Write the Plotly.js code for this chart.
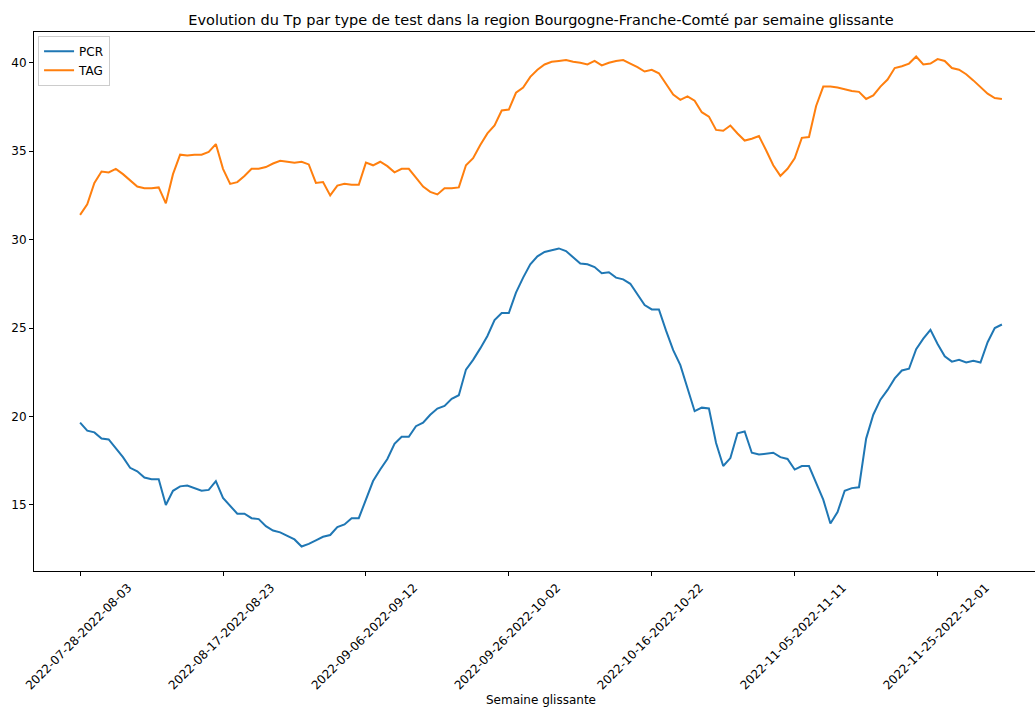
<!DOCTYPE html>
<html>
<head>
<meta charset="utf-8">
<script src="https://cdn.plot.ly/plotly-3.0.1.min.js"></script>
<style>
  html, body { margin: 0; padding: 0; overflow: hidden; background: #fff; }
  #chart { width: 1060px; height: 707px; }
</style>
</head>
<body>
<div id="chart"></div>
<script>
// Rolling 7-day windows, one per day, starting 2022-07-28
const firstWindowStart = "2022-07-28";

// Positivity rate (%) per rolling week
const pcr = [
  19.65, 19.2, 19.1, 18.75, 18.7, 18.2, 17.7, 17.1, 16.9, 16.55,
  16.45, 16.45, 15.0, 15.8, 16.05, 16.1, 15.95, 15.8, 15.85, 16.35,
  15.4, 14.95, 14.5, 14.5, 14.25, 14.2, 13.8, 13.55, 13.45, 13.25,
  13.05, 12.65, 12.8, 13.0, 13.2, 13.3, 13.75, 13.9, 14.25, 14.25,
  15.35, 16.35, 17.0, 17.6, 18.45, 18.85, 18.85, 19.45, 19.65, 20.1,
  20.45, 20.6, 21.0, 21.2, 22.65, 23.2, 23.85, 24.55, 25.45, 25.85,
  25.85, 27.0, 27.85, 28.6, 29.05, 29.3, 29.4, 29.5, 29.35, 29.0,
  28.65, 28.6, 28.45, 28.1, 28.15, 27.85, 27.75, 27.5, 26.9, 26.3,
  26.05, 26.05, 24.85, 23.75, 22.9, 21.55, 20.3, 20.5, 20.45, 18.5,
  17.2, 17.65, 19.05, 19.15, 17.95, 17.85, 17.9, 17.95, 17.7, 17.6,
  17.0, 17.2, 17.2, 16.3, 15.3, 13.95, 14.6, 15.8, 15.95, 16.0,
  18.75, 20.1, 20.95, 21.5, 22.15, 22.6, 22.7, 23.8, 24.4, 24.9,
  24.1, 23.4, 23.1, 23.2, 23.05, 23.15, 23.05, 24.2, 25.0, 25.2
];

const tag = [
  31.4, 32.0, 33.2, 33.85, 33.8, 34.0, 33.7, 33.35, 33.0, 32.9,
  32.9, 32.95, 32.05, 33.7, 34.8, 34.75, 34.8, 34.8, 34.95, 35.4,
  34.0, 33.15, 33.25, 33.6, 34.0, 34.0, 34.1, 34.3, 34.45, 34.4,
  34.35, 34.4, 34.25, 33.2, 33.25, 32.5, 33.05, 33.15, 33.1, 33.1,
  34.35, 34.2, 34.4, 34.15, 33.8, 34.0, 34.0, 33.5, 33.0, 32.7,
  32.55, 32.9, 32.9, 32.95, 34.2, 34.6, 35.35, 36.0, 36.45, 37.3,
  37.35, 38.3, 38.6, 39.2, 39.6, 39.9, 40.05, 40.1, 40.15, 40.05,
  40.0, 39.9, 40.1, 39.85, 40.0, 40.1, 40.15, 39.95, 39.75, 39.5,
  39.6, 39.4, 38.8, 38.2, 37.9, 38.1, 37.85, 37.2, 36.95, 36.2,
  36.15, 36.45, 36.0, 35.6, 35.7, 35.85, 35.05, 34.2, 33.6, 34.0,
  34.6, 35.75, 35.8, 37.55, 38.65, 38.65, 38.6, 38.5, 38.4, 38.35,
  37.95, 38.15, 38.65, 39.05, 39.7, 39.8, 39.95, 40.35, 39.9, 39.95,
  40.2, 40.1, 39.7, 39.6, 39.35, 39.0, 38.6, 38.25, 38.0, 37.95
];

// Category labels "start-end" for each rolling week
function isoDay(d) { return d.toISOString().slice(0, 10); }
const weeks = pcr.map((_, i) => {
  const s = new Date(firstWindowStart + "T00:00:00Z");
  s.setUTCDate(s.getUTCDate() + i);
  const e = new Date(s);
  e.setUTCDate(e.getUTCDate() + 6);
  return isoDay(s) + "-" + isoDay(e);
});

// One labelled tick every 20 windows
const tickWeeks = weeks.filter((_, i) => i % 20 === 0);

// Axis limits with 5% padding around the data
const n = weeks.length;
const xPad = (n - 1) * 0.05;
const allVals = pcr.concat(tag);
const yMin = Math.min(...allVals), yMax = Math.max(...allVals);
const yPad = (yMax - yMin) * 0.05;

const font = "DejaVu Sans, Liberation Sans, sans-serif";

const traces = [
  { name: "PCR", x: weeks, y: pcr, type: "scatter", mode: "lines",
    line: { color: "#1f77b4", width: 2 } },
  { name: "TAG", x: weeks, y: tag, type: "scatter", mode: "lines",
    line: { color: "#ff7f0e", width: 2 } }
];

const layout = {
  width: 1060,
  height: 707,
  margin: { l: 34, r: 12, t: 32, b: 136 },
  paper_bgcolor: "#ffffff",
  plot_bgcolor: "#ffffff",
  font: { family: font, size: 12, color: "#000000" },
  showlegend: true,
  title: {
    text: "Evolution du Tp par type de test dans la region Bourgogne-Franche-Comté par semaine glissante",
    font: { family: font, size: 14.5, color: "#000000" },
    x: 0.5, xref: "paper", xanchor: "center",
    y: 1, yref: "paper", yanchor: "bottom",
    pad: { b: 7 }
  },
  xaxis: {
    type: "category",
    range: [-xPad, (n - 1) + xPad],
    tickmode: "array",
    tickvals: tickWeeks,
    ticktext: tickWeeks,
    tickangle: -45,
    ticklabelshift: 48,
    ticks: "outside", ticklen: 4, tickwidth: 1, tickcolor: "#000",
    showline: true, linecolor: "#000", linewidth: 1, mirror: true,
    showgrid: false, zeroline: false,
    tickfont: { family: font, size: 12, color: "#000" },
    title: { text: "Semaine glissante", font: { family: font, size: 12, color: "#000" }, standoff: 4 },
    automargin: false
  },
  yaxis: {
    range: [yMin - yPad, yMax + yPad],
    tickmode: "array",
    tickvals: [15, 20, 25, 30, 35, 40],
    ticks: "outside", ticklen: 4, tickwidth: 1, tickcolor: "#000",
    showline: true, linecolor: "#000", linewidth: 1, mirror: true,
    showgrid: false, zeroline: false,
    tickfont: { family: font, size: 12, color: "#000" },
    automargin: false
  },
  legend: {
    x: 0.004, y: 0.993, xanchor: "left", yanchor: "top",
    bgcolor: "rgba(255,255,255,0.8)",
    bordercolor: "#cccccc", borderwidth: 1,
    font: { family: font, size: 12, color: "#000" },
    itemwidth: 30,
    tracegroupgap: 0
  }
};

Plotly.newPlot("chart", traces, layout, { displayModeBar: false, staticPlot: true });
</script>
</body>
</html>
